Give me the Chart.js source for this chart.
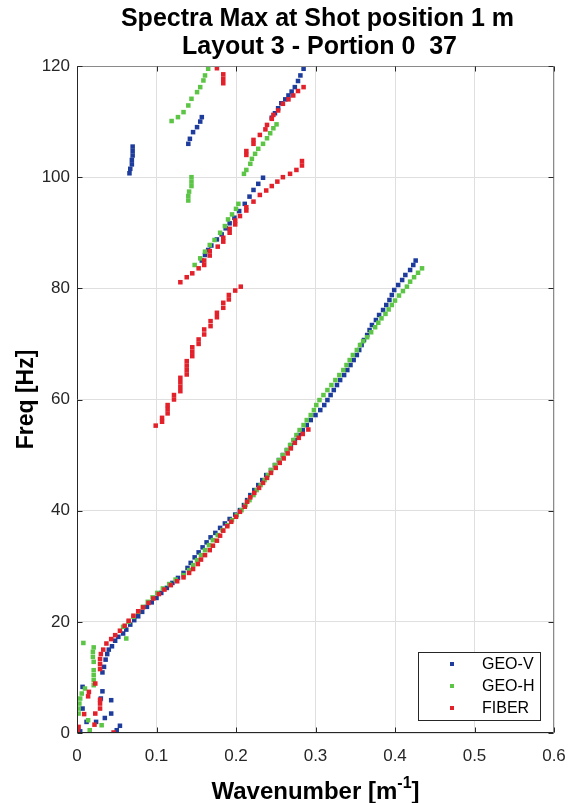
<!DOCTYPE html>
<html><head><meta charset="utf-8">
<script src="https://cdn.jsdelivr.net/npm/chart.js@4.4.1/dist/chart.umd.min.js"></script>
<style>html,body{margin:0;padding:0;background:#fff}#wrap{width:569px;height:803px}canvas{display:block}</style>
</head><body><div id="wrap"><canvas id="c" width="569" height="803"></canvas></div>
<script>
const titleLines = ['Spectra Max at Shot position 1 m', 'Layout 3 - Portion 0  37'];
const xAxisLabel = 'Wavenumber [m';
const xAxisSup = '-1';
const yAxisLabel = 'Freq [Hz]';
const seriesNames = ['GEO-V', 'GEO-H', 'FIBER'];
const seriesColors = ['#1d3c9c', '#5cc545', '#e2212b'];
const xTickValues = [0, 0.1, 0.2, 0.3, 0.4, 0.5, 0.6];
const xTickLabels = ['0', '0.1', '0.2', '0.3', '0.4', '0.5', '0.6'];
const yTickValues = [0, 20, 40, 60, 80, 100, 120];
const yTickLabels = ['0', '20', '40', '60', '80', '100', '120'];

// [wavenumber, frequency]
const geoV = [
[0.004,0.3],[0.05,0.5],[0.054,1.3],[0.012,2.0],[0.024,2.0],[0.035,2.7],[0.043,3.5],[0.007,4.4],[0.043,5.9],[0.03,6.2],[0.032,7.5],[0.007,8.3],
[0.032,10.9],[0.034,11.9],[0.036,13.2],[0.038,14.2],[0.04,15.0],[0.044,15.6],[0.048,16.6],[0.052,17.3],[0.058,17.9],[0.062,18.6],[0.067,19.5],
[0.072,20.3],[0.077,21.0],[0.082,21.8],[0.088,22.7],[0.094,23.5],[0.1,24.3],[0.106,25.2],[0.113,26.1],[0.12,27.0],[0.127,27.9],[0.134,28.8],
[0.139,29.7],[0.143,30.6],[0.148,31.6],[0.153,32.5],[0.158,33.4],[0.163,34.3],[0.168,35.2],[0.174,36.0],[0.18,36.9],[0.186,37.7],[0.192,38.5],
[0.199,39.3],[0.205,40.1],[0.21,41.0],[0.214,41.9],[0.218,42.8],[0.223,43.7],[0.228,44.6],[0.233,45.5],[0.238,46.4],[0.244,47.3],[0.249,48.2],
[0.254,49.1],[0.259,50.0],[0.264,50.9],[0.269,51.8],[0.274,52.7],[0.279,53.6],[0.284,54.5],[0.289,55.4],[0.294,56.3],[0.3,57.2],[0.306,58.1],
[0.311,59.0],[0.315,59.9],[0.319,60.8],[0.323,61.7],[0.327,62.6],[0.331,63.5],[0.336,64.4],[0.34,65.3],[0.344,66.2],[0.348,67.1],[0.352,68.0],
[0.355,68.9],[0.358,69.8],[0.361,70.7],[0.365,71.6],[0.368,72.5],[0.371,73.4],[0.376,74.3],[0.38,75.2],[0.385,76.1],[0.389,77.0],[0.393,77.9],
[0.396,78.8],[0.399,79.7],[0.404,80.6],[0.409,81.5],[0.413,82.4],[0.419,83.3],[0.423,84.2],[0.426,85.0],
[0.157,85.0],[0.161,86.0],[0.165,86.9],[0.169,87.7],[0.176,88.8],[0.182,89.7],[0.187,90.8],[0.192,91.7],[0.198,92.7],[0.204,93.9],[0.211,95.2],
[0.217,96.5],[0.222,97.7],[0.228,98.8],[0.234,99.9],
[0.066,100.7],[0.067,101.5],[0.069,102.3],[0.069,103.1],[0.07,103.9],[0.07,104.7],[0.07,105.5],
[0.14,106.0],[0.142,106.9],[0.146,108.1],[0.151,109.0],[0.155,110.0],[0.157,110.8],
[0.245,110.7],[0.249,111.5],[0.253,112.4],[0.257,113.3],[0.262,114.0],[0.266,114.7],[0.27,115.4],[0.274,116.2],[0.278,117.3],[0.281,118.3],[0.285,119.5]
];

const geoH = [
[0.016,0.5],[0.031,1.4],[0.014,2.3],[0.002,3.5],[0.002,4.4],[0.003,5.3],[0.004,6.2],[0.006,7.1],[0.01,8.0],[0.021,8.6],[0.021,9.5],[0.021,10.4],
[0.021,11.3],[0.021,12.8],[0.02,13.7],[0.02,14.6],[0.021,15.4],[0.008,16.2],[0.062,17.0],[0.058,19.1],[0.065,20.0],[0.071,20.9],[0.077,21.8],
[0.083,22.7],[0.089,23.6],[0.095,24.4],[0.101,25.2],[0.108,26.0],[0.116,26.8],[0.124,27.6],[0.134,28.4],[0.141,29.3],[0.146,30.2],[0.151,31.1],
[0.156,32.0],[0.161,32.9],[0.166,33.8],[0.171,34.7],[0.177,35.6],[0.183,36.5],[0.189,37.4],[0.195,38.3],[0.201,39.2],[0.207,40.1],[0.212,41.0],
[0.217,41.9],[0.222,42.8],[0.226,43.7],[0.231,44.6],[0.236,45.5],[0.24,46.4],[0.244,47.3],[0.249,48.2],[0.254,49.1],[0.259,50.0],[0.264,50.9],
[0.268,51.8],[0.272,52.7],[0.276,53.6],[0.28,54.5],[0.285,55.4],[0.289,56.3],[0.294,57.2],[0.298,58.1],[0.301,59.0],[0.305,59.9],[0.31,60.8],
[0.315,61.7],[0.32,62.6],[0.325,63.5],[0.33,64.4],[0.335,65.3],[0.339,66.2],[0.343,67.1],[0.347,68.0],[0.352,68.9],[0.356,69.8],[0.36,70.5],
[0.365,71.2],[0.37,72.1],[0.375,73.0],[0.379,73.8],[0.383,74.6],[0.388,75.4],[0.392,76.2],[0.396,77.0],[0.4,77.8],[0.405,78.7],[0.41,79.5],
[0.415,80.3],[0.419,81.2],[0.424,82.0],[0.429,82.8],[0.434,83.6],
[0.148,84.2],[0.155,85.4],[0.161,86.6],[0.167,87.8],[0.173,88.7],[0.18,90.0],[0.186,91.2],[0.19,92.4],[0.195,93.3],[0.2,94.3],[0.203,95.2],
[0.14,95.8],[0.14,96.6],[0.141,97.4],[0.144,98.4],[0.144,99.2],[0.144,100.0],
[0.21,100.6],[0.213,101.3],[0.218,102.4],[0.22,103.3],[0.224,104.2],[0.228,105.1],[0.234,106.0],[0.239,107.0],[0.243,107.9],[0.247,108.8],[0.251,109.5],
[0.119,110.1],[0.127,110.8],[0.134,111.7],[0.14,112.9],[0.144,114.1],[0.151,115.3],[0.155,116.2],[0.159,117.4],[0.161,118.3],[0.165,119.5]
];

const fiber = [
[0.001,0.3],[0.002,1.1],[0.046,0.1],[0.022,1.5],[0.009,3.4],[0.023,3.5],[0.029,4.4],[0.029,5.3],[0.029,6.0],[0.014,6.6],[0.015,7.4],[0.023,8.9],
[0.029,11.5],[0.029,12.4],[0.029,13.3],[0.03,14.2],[0.033,15.0],[0.037,16.1],[0.043,16.9],[0.048,17.6],[0.054,18.4],[0.06,19.3],[0.065,20.2],
[0.071,21.1],[0.077,21.9],[0.083,22.6],[0.09,23.4],[0.096,24.2],[0.103,25.0],[0.11,25.8],[0.118,26.6],[0.126,27.3],[0.134,28.0],[0.141,28.8],
[0.146,29.5],[0.152,30.4],[0.156,31.2],[0.161,32.0],[0.167,32.9],[0.171,33.7],[0.176,34.6],[0.18,35.5],[0.184,36.4],[0.189,37.2],[0.194,38.0],
[0.2,38.9],[0.205,39.8],[0.211,40.7],[0.214,41.6],[0.218,42.4],[0.223,43.2],[0.229,44.1],[0.234,45.0],[0.239,45.9],[0.244,46.8],[0.25,47.7],
[0.255,48.6],[0.26,49.4],[0.265,50.3],[0.269,51.2],[0.274,52.2],[0.279,53.1],[0.284,53.8],[0.291,54.6],
[0.099,55.3],[0.107,56.0],[0.107,56.7],[0.114,57.5],[0.114,58.3],[0.114,59.0],[0.122,60.0],[0.122,60.8],[0.13,61.5],[0.13,62.3],[0.13,63.1],
[0.13,63.9],[0.138,64.5],[0.138,65.3],[0.138,66.1],[0.138,66.9],[0.145,67.8],[0.145,68.6],[0.145,69.4],[0.153,70.0],[0.153,70.8],[0.16,71.7],
[0.16,72.6],[0.168,73.2],[0.168,74.1],[0.176,74.8],[0.176,75.6],[0.184,76.5],[0.184,77.4],[0.191,78.0],[0.191,78.8],[0.199,79.6],[0.206,80.3],
[0.13,81.1],[0.138,82.0],[0.145,82.7],[0.153,83.6],[0.16,84.2],[0.16,85.0],[0.167,85.9],[0.167,86.7],[0.177,87.5],[0.184,88.4],[0.184,89.1],
[0.192,90.0],[0.192,90.7],[0.199,91.5],[0.199,92.2],[0.205,93.0],[0.213,94.0],[0.213,94.6],[0.222,95.6],[0.23,96.8],[0.238,97.6],[0.245,98.4],
[0.252,99.2],[0.259,100.0],[0.268,100.6],[0.276,101.3],[0.283,102.1],[0.283,102.9],
[0.213,104.0],[0.213,104.7],[0.222,106.0],[0.222,106.7],[0.23,107.6],[0.237,108.6],[0.239,109.4],[0.245,110.5],[0.247,111.2],[0.253,112.0],
[0.259,113.2],[0.266,114.0],[0.272,114.7],[0.278,115.5],[0.285,116.2],
[0.176,119.6],[0.184,118.5],[0.184,117.7],[0.184,116.9]
];

const FONT = '"Liberation Sans", Arial, Helvetica, sans-serif';
const toXY = arr => arr.map(p => ({x: p[0], y: p[1]}));

const decoPlugin = {
  id: 'deco',
  beforeDraw(c) {
    const ctx = c.ctx;
    ctx.save(); ctx.fillStyle = '#fff'; ctx.fillRect(0, 0, c.width, c.height); ctx.restore();
  },
  afterDraw(c) {
    const ctx = c.ctx, a = c.chartArea, xs = c.scales.x, ys = c.scales.y;
    const L = Math.round(a.left) + 0.5, R = Math.round(a.right) - 0.5, T = Math.round(a.top) + 0.5, B = Math.round(a.bottom) - 0.5;
    ctx.save();
    ctx.lineWidth = 1;
    ctx.strokeStyle = '#8a8a8a';
    ctx.beginPath(); ctx.moveTo(L, T); ctx.lineTo(R, T); ctx.lineTo(R, B); ctx.stroke();
    ctx.strokeStyle = '#262626';
    ctx.beginPath(); ctx.moveTo(L, T); ctx.lineTo(L, B); ctx.lineTo(R, B); ctx.stroke();
    const tl = 5;
    ctx.beginPath();
    xTickValues.forEach(v => {
      const px = Math.round(xs.getPixelForValue(v)) + 0.5;
      ctx.moveTo(px, B); ctx.lineTo(px, B - tl);
      ctx.moveTo(px, T); ctx.lineTo(px, T + tl);
    });
    yTickValues.forEach(v => {
      const py = Math.round(ys.getPixelForValue(v)) + 0.5;
      ctx.moveTo(L, py); ctx.lineTo(L + tl, py);
      ctx.moveTo(R, py); ctx.lineTo(R - tl, py);
    });
    ctx.stroke();
    const cx = (a.left + a.right) / 2;
    ctx.fillStyle = '#000';
    ctx.font = 'bold 25px ' + FONT;
    ctx.textAlign = 'center'; ctx.textBaseline = 'alphabetic';
    ctx.fillText(titleLines[0], cx + 2, 26);
    ctx.fillText(titleLines[1], cx + 4, 54);
    ctx.font = 'bold 24px ' + FONT;
    const w1 = ctx.measureText(xAxisLabel).width;
    ctx.font = 'bold 16px ' + FONT;
    const w2 = ctx.measureText(xAxisSup).width;
    ctx.font = 'bold 24px ' + FONT;
    const w3 = ctx.measureText(']').width;
    let sx = cx - (w1 + w2 + w3) / 2;
    const by = 799;
    ctx.textAlign = 'left';
    ctx.fillText(xAxisLabel, sx, by);
    ctx.font = 'bold 16px ' + FONT;
    ctx.fillText(xAxisSup, sx + w1, by - 11);
    ctx.font = 'bold 24px ' + FONT;
    ctx.fillText(']', sx + w1 + w2, by);
    ctx.save();
    ctx.translate(33, (a.top + a.bottom) / 2);
    ctx.rotate(-Math.PI / 2);
    ctx.textAlign = 'center';
    ctx.font = 'bold 23px ' + FONT;
    ctx.fillText(yAxisLabel, 0, 0);
    ctx.restore();
    const lx = 418, ly = 652, lw = 122, lh = 68;
    ctx.fillStyle = '#fff';
    ctx.fillRect(lx, ly, lw, lh);
    ctx.strokeStyle = '#262626';
    ctx.strokeRect(lx + 0.5, ly + 0.5, lw, lh);
    ctx.font = '16px ' + FONT;
    ctx.textAlign = 'left'; ctx.textBaseline = 'middle';
    c.data.datasets.forEach((ds, i) => {
      const yy = 664 + i * 22;
      ctx.fillStyle = ds.backgroundColor;
      ctx.fillRect(450, yy - 2, 4, 4);
      ctx.fillStyle = '#000';
      ctx.fillText(ds.label, 482, yy + 1);
    });
    ctx.restore();
  }
};

const makeDs = (data, i, order) => ({
  label: seriesNames[i],
  data: toXY(data),
  backgroundColor: seriesColors[i],
  borderColor: seriesColors[i],
  borderWidth: 0,
  pointStyle: 'rect',
  pointRadius: 3.2,
  pointHoverRadius: 3.2,
  showLine: false,
  order: order
});

new Chart(document.getElementById('c'), {
  type: 'scatter',
  data: { datasets: [makeDs(geoV, 0, 3), makeDs(geoH, 1, 2), makeDs(fiber, 2, 1)] },
  options: {
    responsive: false,
    animation: false,
    devicePixelRatio: 1,
    layout: { padding: { top: 66, right: 15, bottom: 0, left: 0 } },
    plugins: { legend: { display: false }, tooltip: { enabled: false }, title: { display: false } },
    scales: {
      x: {
        type: 'linear', min: 0, max: 0.6,
        afterBuildTicks: s => { s.ticks = xTickValues.map(v => ({ value: v })); },
        afterFit: s => { s.height = 70; s.paddingLeft = 0; s.paddingRight = 0; },
        ticks: { callback: (v, i) => xTickLabels[i], color: '#262626', font: { family: FONT, size: 17 }, padding: 13, maxRotation: 0 },
        grid: { color: '#dfdfdf', drawTicks: false, lineWidth: 1 },
        border: { display: false }
      },
      y: {
        type: 'linear', min: 0, max: 120,
        afterBuildTicks: s => { s.ticks = yTickValues.map(v => ({ value: v })); },
        afterFit: s => { s.width = 77; s.paddingTop = 0; s.paddingBottom = 0; },
        ticks: { callback: (v, i) => yTickLabels[i], color: '#262626', font: { family: FONT, size: 17 }, padding: 7 },
        grid: { color: '#dfdfdf', drawTicks: false, lineWidth: 1 },
        border: { display: false }
      }
    }
  },
  plugins: [decoPlugin]
});
</script>
</body></html>
